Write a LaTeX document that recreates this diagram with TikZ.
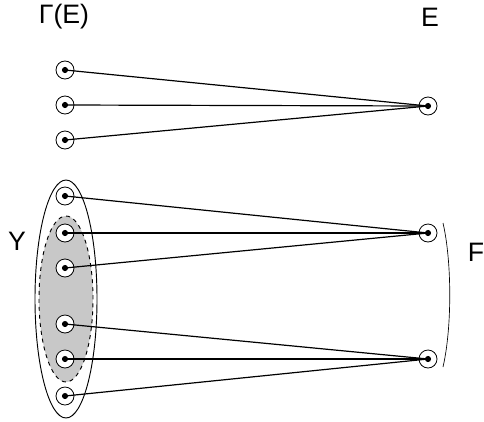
\documentclass[tikz,border=0pt]{standalone}
\usepackage{fontspec}
\setmainfont{Liberation Sans}
\usetikzlibrary{positioning, calc, shapes.geometric, backgrounds}
\usepackage{xcolor}
\definecolor{edgecol}{HTML}{000000}
\definecolor{subsetcol}{HTML}{C8C8C8}
\newcommand{\lblsize}{\fontsize{20}{24}\selectfont}

\begin{document}
\begin{tikzpicture}[
    x=0.75pt, y=-0.75pt,
    vtx/.style={circle, draw, fill=white, minimum size=13.5pt, inner sep=0pt, line width=0.6pt,
        path picture={\fill[black] (path picture bounding box.center) circle (2.3pt);}},
    lbl/.style={font=\lblsize, inner sep=0pt},
    link/.style={line width=0.9pt, color=edgecol},
    setbox/.style={ellipse, draw, line width=0.7pt, inner sep=0pt},
]
\useasboundingbox (0,0) rectangle (484,421);

% ============================================================
%  Labels
% ============================================================
\node[lbl] (lGamma) at (64,17) {\lblsize Γ(E)};
\node[lbl] (lE) at (430,17) {\lblsize E};
\node[lbl] (lY) at (17,241) {\lblsize Y};
\node[lbl] (lF) at (476,252) {\lblsize F};

% ============================================================
%  Top group: Gamma(E) -> E
% ============================================================
\foreach \i/\yp in {1/70, 2/105, 3/140} {
    \node[vtx] (t\i) at (65,\yp) {};
}
\node[vtx] (e) at (428,106) {};

\foreach \i in {1,2,3} { \draw[link] (t\i.center) -- (e.center); }

% ============================================================
%  Lower group: Y -> F
% ============================================================
\foreach \i/\yp in {1/196, 2/233, 3/268, 4/324, 5/359, 6/396} {
    \node[vtx] (y\i) at (65,\yp) {};
}
\node[vtx] (f1) at (428,233) {};
\node[vtx] (f2) at (428,359) {};

\foreach \i in {1,2,3} { \draw[link] (y\i.center) -- (f1.center); }
\foreach \i in {4,5,6} { \draw[link] (y\i.center) -- (f2.center); }

% sets Y and its shaded subset
\begin{scope}[on background layer]
    \node[setbox, minimum width=46.5pt, minimum height=178.5pt] (setY) at (66,299) {};
    \node[setbox, dashed, fill=subsetcol, minimum width=40.5pt, minimum height=124.5pt] (subY) at (66,299) {};
\end{scope}

% bracket for F
\draw[line width=0.5pt] (443,223) .. controls (452,262) and (452,328) .. (443,367);

\end{tikzpicture}
\end{document}
